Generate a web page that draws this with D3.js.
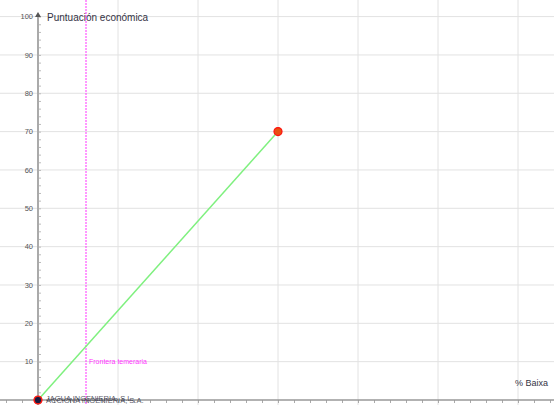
<!DOCTYPE html>
<html>
<head>
<meta charset="utf-8">
<script src="https://cdn.jsdelivr.net/npm/d3@7"></script>
<style>
  body { margin: 0; background: #fff; }
  svg { display: block; font-family: "Liberation Sans", Arial, sans-serif; }
</style>
</head>
<body>
<div id="chart"></div>
<script>
// offers: % baixa vs puntuacion economica
let offerNames = ['JAGUA INGENIERIA, S.L.', 'ACCIONA INGENIERIA, S.A.', ''];
let offerBaixa = [0, 0, 30];
let offerPunt = [0, 0, 70];
let offerFill = ['#e03010', '#1a1a40', '#e85010'];

// scoring line
let lineBaixa = [0, 30];
let linePunt = [0, 70];

// reckless threshold
let temerariaBaixa = 6;
let temerariaLabel = 'Frontera temeraria';

let xTicks = [10, 20, 30, 40, 50, 60];
let yTicks = [10, 20, 30, 40, 50, 60, 70, 80, 90, 100];

let width = 554, height = 405;

let svg = d3.select('#chart')
    .append('svg')
    .attr('width', width)
    .attr('height', height);

let x = d3.scaleLinear().domain([-4.75, 64.5]).range([0, width]);
let y = d3.scaleLinear().domain([-1.304, 104.33]).range([height, 0]);

// grid
svg.append('g')
    .selectAll('line')
    .data(xTicks)
    .enter().append('line')
    .attr('x1', d => x(d)).attr('x2', d => x(d))
    .attr('y1', 0).attr('y2', height)
    .style('stroke', '#e2e2e2')
    .style('stroke-width', 1);

svg.append('g')
    .selectAll('line')
    .data(yTicks)
    .enter().append('line')
    .attr('x1', 0).attr('x2', width)
    .attr('y1', d => y(d)).attr('y2', d => y(d))
    .style('stroke', '#e2e2e2')
    .style('stroke-width', 1);

// x axis
let xAxis = d3.axisBottom(x)
    .tickValues(d3.range(-4, 65, 2))
    .tickSize(3)
    .tickFormat('');
let gx = svg.append('g')
    .attr('transform', `translate(0, ${y(0)})`)
    .call(xAxis);
gx.select('.domain').remove();
gx.selectAll('line').style('stroke', '#aaa');
gx.append('line')
    .attr('x1', 0).attr('x2', width)
    .style('stroke', '#999')
    .style('stroke-width', 1.5);
// tick labels sit below the visible area, only their tops show
gx.selectAll('.lbl')
    .data(xTicks)
    .enter().append('text')
    .attr('class', 'lbl')
    .attr('x', d => x(d))
    .attr('y', 10)
    .attr('text-anchor', 'middle')
    .style('font-size', '7px')
    .style('fill', '#777')
    .text(d => d);

// y axis
let yAxis = d3.axisRight(y)
    .tickValues(d3.range(0, 101, 2))
    .tickSize(3)
    .tickFormat('');
let gy = svg.append('g')
    .attr('transform', `translate(${x(0)}, 0)`)
    .call(yAxis);
gy.select('.domain').remove();
gy.selectAll('line').style('stroke', '#bbb');
gy.append('line')
    .attr('y1', 14).attr('y2', height)
    .style('stroke', '#aaa')
    .style('stroke-width', 2);
gy.append('path')
    .attr('d', 'M-3,17 L3,17 L0,12 Z')
    .style('fill', '#555');
gy.selectAll('.lbl')
    .data(yTicks)
    .enter().append('text')
    .attr('class', 'lbl')
    .attr('x', -5)
    .attr('y', d => y(d))
    .attr('dy', '0.35em')
    .attr('text-anchor', 'end')
    .style('font-size', '7.5px')
    .style('fill', '#555')
    .text(d => d);

svg.append('text')
    .attr('x', x(0) + 9).attr('y', 21)
    .style('font-size', '10px')
    .style('fill', '#333344')
    .text('Puntuación económica');

svg.append('text')
    .attr('x', 515).attr('y', 386)
    .style('font-size', '9px')
    .style('fill', '#333344')
    .text('% Baixa');

// reckless line
svg.append('line')
    .attr('x1', x(temerariaBaixa)).attr('x2', x(temerariaBaixa))
    .attr('y1', 0).attr('y2', height)
    .style('stroke', '#ff33ff')
    .style('stroke-width', 1)
    .style('stroke-dasharray', '2,1');
svg.append('text')
    .attr('x', x(temerariaBaixa) + 3).attr('y', y(10) + 2)
    .style('font-size', '7px')
    .style('fill', '#ff33ff')
    .text(temerariaLabel);

// scoring line
let linePts = lineBaixa.map((d, i) => [d, linePunt[i]]);
svg.append('path')
    .datum(linePts)
    .attr('d', d3.line().x(d => x(d[0])).y(d => y(d[1])))
    .style('fill', 'none')
    .style('stroke', '#7ff07f')
    .style('stroke-width', 1.5);

// offers
let offers = offerNames.map((n, i) => ({name: n, baixa: offerBaixa[i], punt: offerPunt[i], fill: offerFill[i]}));
svg.append('g')
    .selectAll('circle')
    .data(offers)
    .enter().append('circle')
    .attr('cx', d => x(d.baixa))
    .attr('cy', d => y(d.punt))
    .attr('r', (d, i) => i == 1 ? 2.5 : 4)
    .style('fill', d => d.fill)
    .style('stroke', (d, i) => i == 1 ? '#1a1a40' : '#ff1010')
    .style('stroke-width', 1.2);

svg.append('g')
    .selectAll('text')
    .data(offers.filter(d => d.name != ''))
    .enter().append('text')
    .attr('x', d => x(d.baixa) + 8)
    .attr('y', (d, i) => y(d.punt) + 1 + i * 1.5)
    .style('font-size', '7.5px')
    .style('fill', '#333344')
    .style('opacity', 0.8)
    .text(d => d.name);
</script>
</body>
</html>
